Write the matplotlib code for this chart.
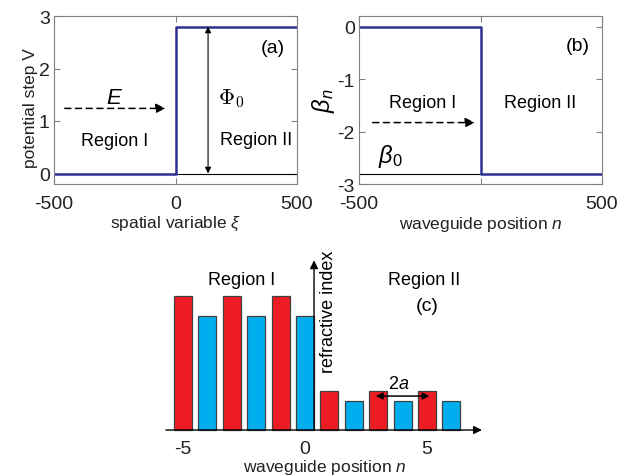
import numpy as np
import matplotlib
matplotlib.use("Agg")
from matplotlib import pyplot as plt

plt.rcParams['font.family'] = ['Liberation Sans', 'DejaVu Sans']
plt.rcParams['mathtext.fontset'] = 'custom'
plt.rcParams['mathtext.it'] = 'Liberation Sans:italic'
plt.rcParams['mathtext.rm'] = 'Liberation Sans'
plt.rcParams['axes.unicode_minus'] = False

# (a) potential step
xi = [-500, 0, 0, 500]
V = [0, 0, 2.8, 2.8]
phi0 = 2.8

# (b) propagation constant
n_b = [-500, 0, 0, 500]
beta = [0, 0, -2.8, -2.8]
beta0 = -2.8

# (c) refractive index of waveguides
n_c = [-5, -4, -3, -2, -1, 0, 1, 2, 3, 4, 5, 6]
index = [4.62, 3.93, 4.62, 3.93, 4.62, 3.93, 1.34, 1.0, 1.34, 1.0, 1.34, 1.0]
bar_colors = ['#ED1C24', '#00AEEF'] * 6

navy = '#2E3192'
grey = '#808080'
txt = '#222222'

fig = plt.figure(figsize=(6.36, 4.77), dpi=100)
W, H = 636, 477


def box(px0, py0, px1, py1):
    return [px0 / W, 1 - py1 / H, (px1 - px0) / W, (py1 - py0) / H]


def style(ax):
    for s in ax.spines.values():
        s.set_color(grey)
        s.set_linewidth(0.8)
    ax.tick_params(direction='in', top=True, right=True, color=grey,
                   labelsize=14, length=4, labelcolor=txt)
    ax.tick_params(axis='x', pad=8)
    ax.tick_params(axis='y', pad=3)


# ---- (a)
axa = fig.add_axes(box(54, 17, 297, 185))
axa.axhline(0, color='black', lw=0.8)
axa.plot(xi, V, color=navy, lw=1.8)
axa.set_xlim(-500, 500)
axa.set_ylim(-0.2, 3)
axa.set_xticks([-500, 0, 500])
axa.set_yticks([0, 1, 2, 3])
style(axa)
axa.set_xlabel(r'spatial variable $\xi$', fontsize=12.5, labelpad=1, color=txt)
axa.set_ylabel('potential step V', fontsize=12.5, color=txt)
axa.yaxis.set_label_coords(-0.065, 0.46)
axa.annotate('', xy=(-30, 1.24), xytext=(-467, 1.24),
             arrowprops=dict(arrowstyle='-|>', ls=(0, (4, 3)), color='black',
                             lw=1.1, mutation_scale=14))
axa.text(-250, 1.45, r'$E$', fontsize=16, ha='center', va='center')
axa.text(-250, 0.62, 'Region I', fontsize=13, ha='center', va='center')
axa.text(330, 0.64, 'Region II', fontsize=13, ha='center', va='center')
axa.annotate('', xy=(134, phi0), xytext=(134, 0),
             arrowprops=dict(arrowstyle='<|-|>', color='black', lw=0.8,
                             mutation_scale=9, shrinkA=0, shrinkB=0))
axa.text(228, 1.45, r'$\Phi_0$', fontsize=16, ha='center', va='center',
         math_fontfamily='cm')
axa.text(400, 2.4, '(a)', fontsize=14, ha='center', va='center')

# ---- (b)
axb = fig.add_axes(box(359, 17, 602, 185))
axb.axhline(beta0, color='black', lw=0.8)
axb.plot(n_b, beta, color=navy, lw=1.8)
axb.set_xlim(-500, 500)
axb.set_ylim(-3, 0.2)
axb.set_xticks([-500, 0, 500])
axb.set_xticklabels(['-500', '', '500'])
axb.set_yticks([0, -1, -2, -3])
style(axb)
axb.set_xlabel(r'waveguide position $n$', fontsize=12.5, labelpad=1, color=txt)
axb.set_ylabel(r'$\beta_n$', fontsize=17, labelpad=0)
axb.annotate('', xy=(-12, -1.83), xytext=(-455, -1.83),
             arrowprops=dict(arrowstyle='-|>', ls=(0, (4, 3)), color='black',
                             lw=1.1, mutation_scale=14))
axb.text(-240, -1.44, 'Region I', fontsize=13, ha='center', va='center')
axb.text(245, -1.44, 'Region II', fontsize=13, ha='center', va='center')
axb.text(-372, -2.45, r'$\beta_{\mathit{0}}$', fontsize=17, ha='center', va='center')
axb.text(400, -0.37, '(b)', fontsize=14, ha='center', va='center')

# ---- (c)
px_unit = 24.4
x0px = 305
y0px = 431
yunit = 29
left, right, top, bottom = 150, 500, 250, 440
axc = fig.add_axes(box(left, top, right, bottom))
axc.set_xlim((left - x0px) / px_unit, (right - x0px) / px_unit)
axc.set_ylim(-(bottom - y0px) / yunit, (y0px - top) / yunit)
axc.bar(n_c, index, width=0.74, color=bar_colors, edgecolor='#404040',
        linewidth=0.9, zorder=2)
for s in axc.spines.values():
    s.set_visible(False)
axc.set_yticks([])
axc.set_xticks([-5, 0, 5])
axc.tick_params(axis='x', length=0, labelsize=14, pad=1, labelcolor=txt)
axc.set_xlabel(r'waveguide position $n$', fontsize=12.5, labelpad=0, color=txt)
axc.annotate('', xy=(7.25, 0), xytext=(-5.7, 0),
             arrowprops=dict(arrowstyle='-|>', color='black', lw=1.0,
                             mutation_scale=12, shrinkA=0, shrinkB=0),
             zorder=3)
axc.annotate('', xy=(0.37, 5.85), xytext=(0.37, 0),
             arrowprops=dict(arrowstyle='-|>', color='black', lw=1.0,
                             mutation_scale=12, shrinkA=0, shrinkB=0),
             zorder=3)
axc.text(0.95, 4.1, 'refractive index', rotation=90, fontsize=13,
         ha='center', va='center')
axc.text(-2.6, 5.2, 'Region I', fontsize=13, ha='center', va='center')
axc.text(4.9, 5.2, 'Region II', fontsize=13, ha='center', va='center')
axc.text(5.0, 4.3, '(c)', fontsize=14, ha='center', va='center')
axc.annotate('', xy=(5.1, 1.17), xytext=(2.9, 1.17),
             arrowprops=dict(arrowstyle='<|-|>', color='black', lw=1.1,
                             mutation_scale=10, shrinkA=0, shrinkB=0),
             zorder=3)
axc.text(3.85, 1.6, r'2$a$', fontsize=13, ha='center', va='center')

fig.savefig('out.png', dpi=100)
